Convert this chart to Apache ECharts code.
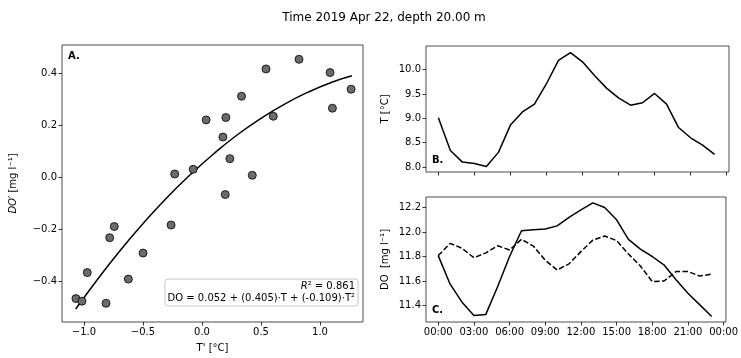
<!DOCTYPE html>
<html>
<head>
<meta charset="utf-8">
<script src="https://cdn.jsdelivr.net/npm/echarts@6/dist/echarts.min.js"></script>
<style>
html,body{margin:0;padding:0;background:#fff;}
#chart{width:741px;height:358px;}
</style>
</head>
<body>
<div id="chart"></div>
<script>
// ---- Data ----
var scatterX = [-1.068, -1.017, -0.972, -0.813, -0.782, -0.743, -0.624, -0.499, -0.262, -0.231, -0.075, 0.035, 0.177, 0.202, 0.197, 0.236, 0.335, 0.426, 0.542, 0.604, 0.822, 1.085, 1.105, 1.263];
var scatterY = [-0.466, -0.476, -0.366, -0.484, -0.232, -0.189, -0.391, -0.291, -0.183, 0.013, 0.031, 0.221, 0.155, 0.230, -0.066, 0.072, 0.312, 0.008, 0.417, 0.235, 0.454, 0.403, 0.266, 0.339];
var fitX = [-1.07, -0.9, -0.7, -0.5, -0.3, -0.1, 0.1, 0.3, 0.5, 0.7, 0.9, 1.1, 1.27];
var fitY = [-0.506, -0.401, -0.285, -0.178, -0.079, 0.010, 0.091, 0.164, 0.227, 0.282, 0.328, 0.366, 0.391];
var hours = [0, 1, 2, 3, 4, 5, 6, 7, 8, 9, 10, 11, 12, 13, 14, 15, 16, 17, 18, 19, 20, 21, 22, 23];
var tempVals = [9.01, 8.34, 8.10, 8.07, 8.01, 8.30, 8.86, 9.13, 9.29, 9.71, 10.19, 10.35, 10.16, 9.88, 9.62, 9.42, 9.27, 9.32, 9.51, 9.29, 8.81, 8.60, 8.45, 8.26];
var doObserved = [11.807, 11.574, 11.427, 11.319, 11.327, 11.555, 11.80, 12.01, 12.018, 12.024, 12.05, 12.12, 12.18, 12.238, 12.20, 12.10, 11.94, 11.86, 11.80, 11.73, 11.61, 11.50, 11.405, 11.31];
var doModel = [11.807, 11.907, 11.867, 11.79, 11.83, 11.888, 11.853, 11.94, 11.885, 11.77, 11.69, 11.74, 11.84, 11.934, 11.967, 11.93, 11.82, 11.723, 11.595, 11.60, 11.677, 11.677, 11.64, 11.657];
var ticksA_x = [-1.0, -0.5, 0.0, 0.5, 1.0];
var ticksA_y = [-0.4, -0.2, 0.0, 0.2, 0.4];
var ticksB_y = [8.0, 8.5, 9.0, 9.5, 10.0];
var ticksC_y = [11.4, 11.6, 11.8, 12.0, 12.2];
var ticksTime = [0, 3, 6, 9, 12, 15, 18, 21, 24];
var titleText = 'Time 2019 Apr 22, depth 20.00 m';

// ---- Helpers ----
var FONT = 'DejaVu Sans';
function fmt1(v) {
  var s = Math.abs(v).toFixed(1);
  return (v < -1e-9 ? '\u2212' : '') + s;
}
function fmtTime(v) {
  var h = Math.round(v) % 24;
  return (h < 10 ? '0' : '') + h + ':00';
}
function zip(a, b) { return a.map(function (v, i) { return [v, b[i]]; }); }
function valAxis(gridIndex, min, max, ticks, fmt, showLabels, name, nameGap, nameLoc, rich) {
  return {
    type: 'value', gridIndex: gridIndex, min: min, max: max,
    axisLine: { show: false, onZero: false },
    splitLine: { show: false },
    axisTick: { show: true, customValues: ticks, length: 3.5, lineStyle: { color: '#000', width: 0.8 } },
    axisLabel: { show: showLabels, customValues: ticks, formatter: fmt, color: '#000', fontFamily: FONT, fontSize: 10, margin: 5 },
    name: name, nameLocation: 'middle', nameGap: nameGap,
    nameTextStyle: { color: '#000', fontFamily: FONT, fontSize: 10, rich: rich || {} }
  };
}
var italicRich = { i: { fontStyle: 'italic', fontFamily: FONT, fontSize: 10, color: '#000' } };

var chart = echarts.init(document.getElementById('chart'), null, { renderer: 'canvas' });
var gridStyle = { show: true, borderColor: '#222', borderWidth: 0.8, backgroundColor: 'transparent', containLabel: false };
var option = {
  animation: false,
  backgroundColor: '#fff',
  grid: [
    Object.assign({ left: 62, top: 45, width: 301, height: 278 }, gridStyle),
    Object.assign({ left: 426, top: 46, width: 303, height: 126 }, gridStyle),
    Object.assign({ left: 426, top: 197, width: 303, height: 125 }, gridStyle)
  ],
  xAxis: [
    valAxis(0, -1.186, 1.364, ticksA_x, fmt1, true, "T' [\u00b0C]", 21),
    valAxis(1, -1.03, 24.2, ticksTime, fmtTime, false, '', 0),
    valAxis(2, -1.03, 24.2, ticksTime, fmtTime, true, '', 0)
  ],
  yAxis: [
    valAxis(0, -0.556, 0.509, ticksA_y, fmt1, true, '{i|DO\u2032} [mg l\u207b\u00b9]', 44, 'middle', italicRich),
    valAxis(1, 7.897, 10.485, ticksB_y, fmt1, true, 'T [\u00b0C]', 36),
    valAxis(2, 11.265, 12.286, ticksC_y, fmt1, true, 'DO  [mg l\u207b\u00b9]', 36)
  ],
  series: [
    {
      type: 'line', xAxisIndex: 0, yAxisIndex: 0, data: zip(fitX, fitY), smooth: true,
      showSymbol: false, lineStyle: { color: '#000', width: 1.5 }, z: 2
    },
    {
      type: 'scatter', xAxisIndex: 0, yAxisIndex: 0, data: zip(scatterX, scatterY), symbolSize: 8,
      itemStyle: { color: '#6b6b6b', borderColor: '#000', borderWidth: 0.8, opacity: 1 }, z: 3
    },
    {
      type: 'line', xAxisIndex: 1, yAxisIndex: 1, data: zip(hours, tempVals),
      showSymbol: false, lineStyle: { color: '#000', width: 1.5 }
    },
    {
      type: 'line', xAxisIndex: 2, yAxisIndex: 2, data: zip(hours, doObserved),
      showSymbol: false, lineStyle: { color: '#000', width: 1.5 }
    },
    {
      type: 'line', xAxisIndex: 2, yAxisIndex: 2, data: zip(hours, doModel),
      showSymbol: false, lineStyle: { color: '#000', width: 1.5, type: [5.5, 2.4] }
    }
  ],
  graphic: [
    { type: 'text', x: 384, y: 18, style: { text: titleText, fill: '#000', font: '12px "DejaVu Sans"', align: 'center', verticalAlign: 'middle' } },
    { type: 'text', x: 68, y: 56, style: { text: 'A.', fill: '#000', font: 'bold 10px "DejaVu Sans"', align: 'left', verticalAlign: 'middle' } },
    { type: 'text', x: 432, y: 160, style: { text: 'B.', fill: '#000', font: 'bold 10px "DejaVu Sans"', align: 'left', verticalAlign: 'middle' } },
    { type: 'text', x: 432, y: 310, style: { text: 'C.', fill: '#000', font: 'bold 10px "DejaVu Sans"', align: 'left', verticalAlign: 'middle' } },
    { type: 'rect', shape: { x: 165, y: 279, width: 193, height: 27, r: 3 }, style: { fill: 'rgba(255,255,255,0.8)', stroke: '#c8c8c8', lineWidth: 1 }, z: 50 },
    { type: 'text', x: 355, y: 286, z: 51, style: { text: '{i|R}\u00b2 = 0.861', fill: '#000', font: '10px "DejaVu Sans"', align: 'right', verticalAlign: 'middle', rich: italicRich } },
    { type: 'text', x: 355, y: 298, z: 51, style: { text: 'DO = 0.052 + (0.405)\u00b7T + (-0.109)\u00b7T\u00b2', fill: '#000', font: '10px "DejaVu Sans"', align: 'right', verticalAlign: 'middle' } }
  ]
};
chart.setOption(option);
</script>
</body>
</html>
